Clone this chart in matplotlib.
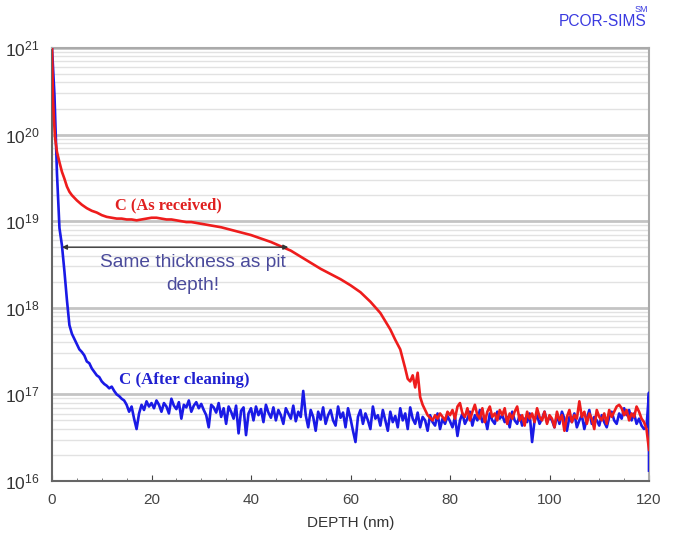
import numpy as np
import matplotlib.pyplot as plt
from matplotlib.ticker import LogLocator, MultipleLocator

# ---- data (log10 of concentration) ----
# C (As received) - smooth part
red_depth = [0, 0.2, 0.4, 0.6, 1.0, 1.5, 2.0, 2.5, 3.0, 3.5, 4.0, 5, 6, 7, 8, 9,
             10, 11, 12, 13, 14, 15, 16, 17, 18, 19, 20, 21, 22, 23, 24, 25, 26,
             27, 28, 30, 32, 34, 36, 38, 40, 42, 44, 46, 48, 50, 52, 54, 56, 58,
             60, 62, 64, 66, 68, 69, 70, 71, 71.5, 72, 72.5, 73, 73.5, 74, 74.5,
             75, 75.5]
red_log = [21.0, 20.40, 20.17, 19.97, 19.80, 19.68, 19.57, 19.49, 19.40, 19.34,
           19.30, 19.24, 19.19, 19.15, 19.12, 19.10, 19.07, 19.05, 19.04, 19.03,
           19.03, 19.02, 19.02, 19.01, 19.02, 19.03, 19.04, 19.04, 19.03, 19.02,
           19.02, 19.01, 19.00, 18.99, 18.99, 18.97, 18.95, 18.93, 18.90, 18.87,
           18.84, 18.80, 18.76, 18.71, 18.66, 18.59, 18.52, 18.45, 18.39, 18.33,
           18.26, 18.18, 18.07, 17.94, 17.75, 17.63, 17.52, 17.30, 17.18, 17.15,
           17.22, 17.08, 17.25, 16.97, 16.88, 16.82, 16.76]
# C (As received) - noise floor, 76 .. 120 nm every 0.5 nm
red_noise = [16.73, 16.70, 16.76, 16.72, 16.78, 16.74, 16.70, 16.80, 16.76,
             16.82, 16.72, 16.86, 16.90, 16.78, 16.74, 16.84, 16.70, 16.80, 16.88,
             16.76, 16.72, 16.84, 16.68, 16.80, 16.86, 16.74, 16.78, 16.70, 16.82,
             16.76, 16.84, 16.66, 16.78, 16.72, 16.80, 16.86, 16.70, 16.76, 16.64,
             16.80, 16.72, 16.78, 16.68, 16.84, 16.74, 16.70, 16.80, 16.66, 16.76,
             16.72, 16.62, 16.80, 16.70, 16.76, 16.58, 16.74, 16.82, 16.68, 16.76,
             16.72, 16.92, 16.74, 16.80, 16.66, 16.78, 16.72, 16.60, 16.82, 16.74,
             16.70, 16.78, 16.66, 16.82, 16.74, 16.80, 16.86, 16.88, 16.84, 16.76,
             16.82, 16.70, 16.78, 16.74, 16.86, 16.80, 16.72, 16.68, 16.60, 16.36]

# C (After cleaning) - decay part, 0 .. 16 nm
blue_depth = [0, 0.5, 1.0, 1.5, 2.0, 2.5, 3.0, 3.5, 4.0, 4.5, 5.0, 5.5, 6.0, 6.5,
              7.0, 7.5, 8.0, 8.5, 9.0, 9.5, 10.0, 10.5, 11.0, 11.5, 12.0, 12.5,
              13.0, 13.5, 14.0, 14.5, 15.0, 15.5, 16.0]
blue_log = [21.0, 20.45, 19.55, 18.92, 18.72, 18.42, 18.09, 17.80, 17.70, 17.64,
            17.58, 17.52, 17.49, 17.45, 17.38, 17.36, 17.30, 17.26, 17.22, 17.20,
            17.15, 17.12, 17.10, 17.07, 17.09, 17.04, 17.00, 16.98, 16.95, 16.93,
            16.88, 16.80, 16.86]
# C (After cleaning) - noise floor, 16.5 .. 120 nm every 0.5 nm
blue_noise = [16.72, 16.60, 16.78, 16.88, 16.82, 16.92, 16.86, 16.90,
              16.84, 16.93, 16.88, 16.80, 16.90, 16.86, 16.78, 16.95, 16.87, 16.83,
              16.91, 16.72, 16.88, 16.85, 16.93, 16.80, 16.87, 16.91, 16.84, 16.89,
              16.82, 16.76, 16.62, 16.88, 16.85, 16.79, 16.90, 16.74, 16.84, 16.66,
              16.86, 16.80, 16.72, 16.87, 16.55, 16.81, 16.85, 16.53, 16.78, 16.84,
              16.70, 16.86, 16.76, 16.83, 16.68, 16.88, 16.79, 16.73, 16.85, 16.70,
              16.82, 16.76, 16.66, 16.84, 16.78, 16.72, 16.87, 16.69, 16.80, 16.74,
              17.04, 16.76, 16.62, 16.82, 16.74, 16.58, 16.80, 16.71, 16.85, 16.66,
              16.76, 16.82, 16.70, 16.64, 16.86, 16.73, 16.79, 16.62, 16.84, 16.72,
              16.58, 16.45, 16.74, 16.82, 16.66, 16.78, 16.70, 16.60, 16.86, 16.72,
              16.76, 16.64, 16.82, 16.70, 16.58, 16.80, 16.68, 16.75, 16.62, 16.84,
              16.70, 16.78, 16.60, 16.85, 16.72, 16.66, 16.79, 16.62, 16.74, 16.70,
              16.58, 16.76, 16.68, 16.64, 16.78, 16.60, 16.72, 16.66, 16.75, 16.69,
              16.62, 16.74, 16.52, 16.70, 16.78, 16.66, 16.72, 16.80, 16.64, 16.76,
              16.70, 16.82, 16.68, 16.74, 16.60, 16.78, 16.70, 16.66, 16.80, 16.72,
              16.76, 16.68, 16.74, 16.62, 16.80, 16.70, 16.66, 16.76, 16.64, 16.72,
              16.68, 16.78, 16.45, 16.70, 16.76, 16.66, 16.72, 16.80, 16.68, 16.74,
              16.70, 16.62, 16.76, 16.66, 16.80, 16.72, 16.58, 16.74, 16.68, 16.78,
              16.62, 16.70, 16.76, 16.60, 16.72, 16.82, 16.66, 16.74, 16.70, 16.64,
              16.76, 16.68, 16.62, 16.74, 16.80, 16.70, 16.66, 16.78, 16.72, 16.84,
              16.76, 16.82, 16.70, 16.78, 16.66, 16.72, 16.64, 16.60, 16.62, 17.02]
blue_end = (120, 16.12)   # last spike down at the right edge

x_ticks = [0, 20, 40, 60, 80, 100, 120]

# ---- assemble series ----
red_x = np.concatenate([red_depth, np.arange(76, 120.01, 0.5)])
red_y = 10 ** np.concatenate([red_log, red_noise])
blue_x = np.concatenate([blue_depth, np.arange(16.5, 120.01, 0.5), [blue_end[0]]])
blue_y = 10 ** np.concatenate([blue_log, blue_noise, [blue_end[1]]])

plt.rcParams['font.family'] = ['Liberation Sans', 'DejaVu Sans']
plt.rcParams['mathtext.default'] = 'regular'

fig = plt.figure(figsize=(6.79, 5.40), dpi=100)
ax = fig.add_axes([52/679, 1 - 481/540, 597/679, 433/540])

ax.plot(blue_x, blue_y, color='#1a1ae6', lw=1.9, zorder=3)
ax.plot(red_x, red_y, color='#ee1c1c', lw=1.9, zorder=4)

ax.set_yscale('log')
ax.set_ylim(1e16, 1e21)
ax.set_xlim(0, 120)
ax.set_xticks(x_ticks)
ax.xaxis.set_minor_locator(MultipleLocator(5))
ax.yaxis.set_major_locator(LogLocator(base=10, numticks=10))
ax.yaxis.set_minor_locator(LogLocator(base=10, subs=np.arange(2, 10), numticks=20))

ax.grid(axis='y', which='major', color='#c4c4c4', lw=2.0, zorder=0)
ax.grid(axis='y', which='minor', color='#e2e2e2', lw=1.0, zorder=0)
ax.set_axisbelow(True)

ax.tick_params(axis='y', which='both', length=0, labelsize=12.5, colors='#333333', pad=9)
ax.tick_params(axis='x', which='major', direction='in', length=4, labelsize=11,
               colors='#444444', pad=9)
ax.tick_params(axis='x', which='minor', direction='in', length=2, color='#666666')
ax.set_xlabel('DEPTH (nm)', fontsize=11, color='#333333', labelpad=6)

for side in ['left', 'bottom']:
    ax.spines[side].set_color('#666666')
    ax.spines[side].set_linewidth(1.5)
for side in ['top', 'right']:
    ax.spines[side].set_color('#aaaaaa')
    ax.spines[side].set_linewidth(1.5)

# annotations
ax.annotate('', xy=(2, 10**18.70), xytext=(47.5, 10**18.70),
            arrowprops=dict(arrowstyle='<|-|>', color='#333333', lw=1.0,
                            mutation_scale=7, shrinkA=0, shrinkB=0), zorder=5)
ax.text(28.3, 10**18.39, 'Same thickness as pit\ndepth!', ha='center', va='center',
        fontsize=13.8, color='#4b4b9b', linespacing=1.45)
ax.text(23.4, 10**19.18, 'C (As received)', ha='center', va='center', fontsize=11.8,
        color='#e02020', fontweight='bold', family=['Liberation Serif', 'DejaVu Serif'])
ax.text(26.6, 10**17.17, 'C (After cleaning)', ha='center', va='center', fontsize=12.2,
        color='#2020d0', fontweight='bold', family=['Liberation Serif', 'DejaVu Serif'])

fig.text(0.887, 0.961, 'PCOR-SIMS', ha='center', va='center', fontsize=11.2,
         color='#3a3ae0')
fig.text(0.945, 0.982, 'SM', ha='center', va='center', fontsize=6.5, color='#3a3ae0')

fig.savefig('out.png', dpi=100)
